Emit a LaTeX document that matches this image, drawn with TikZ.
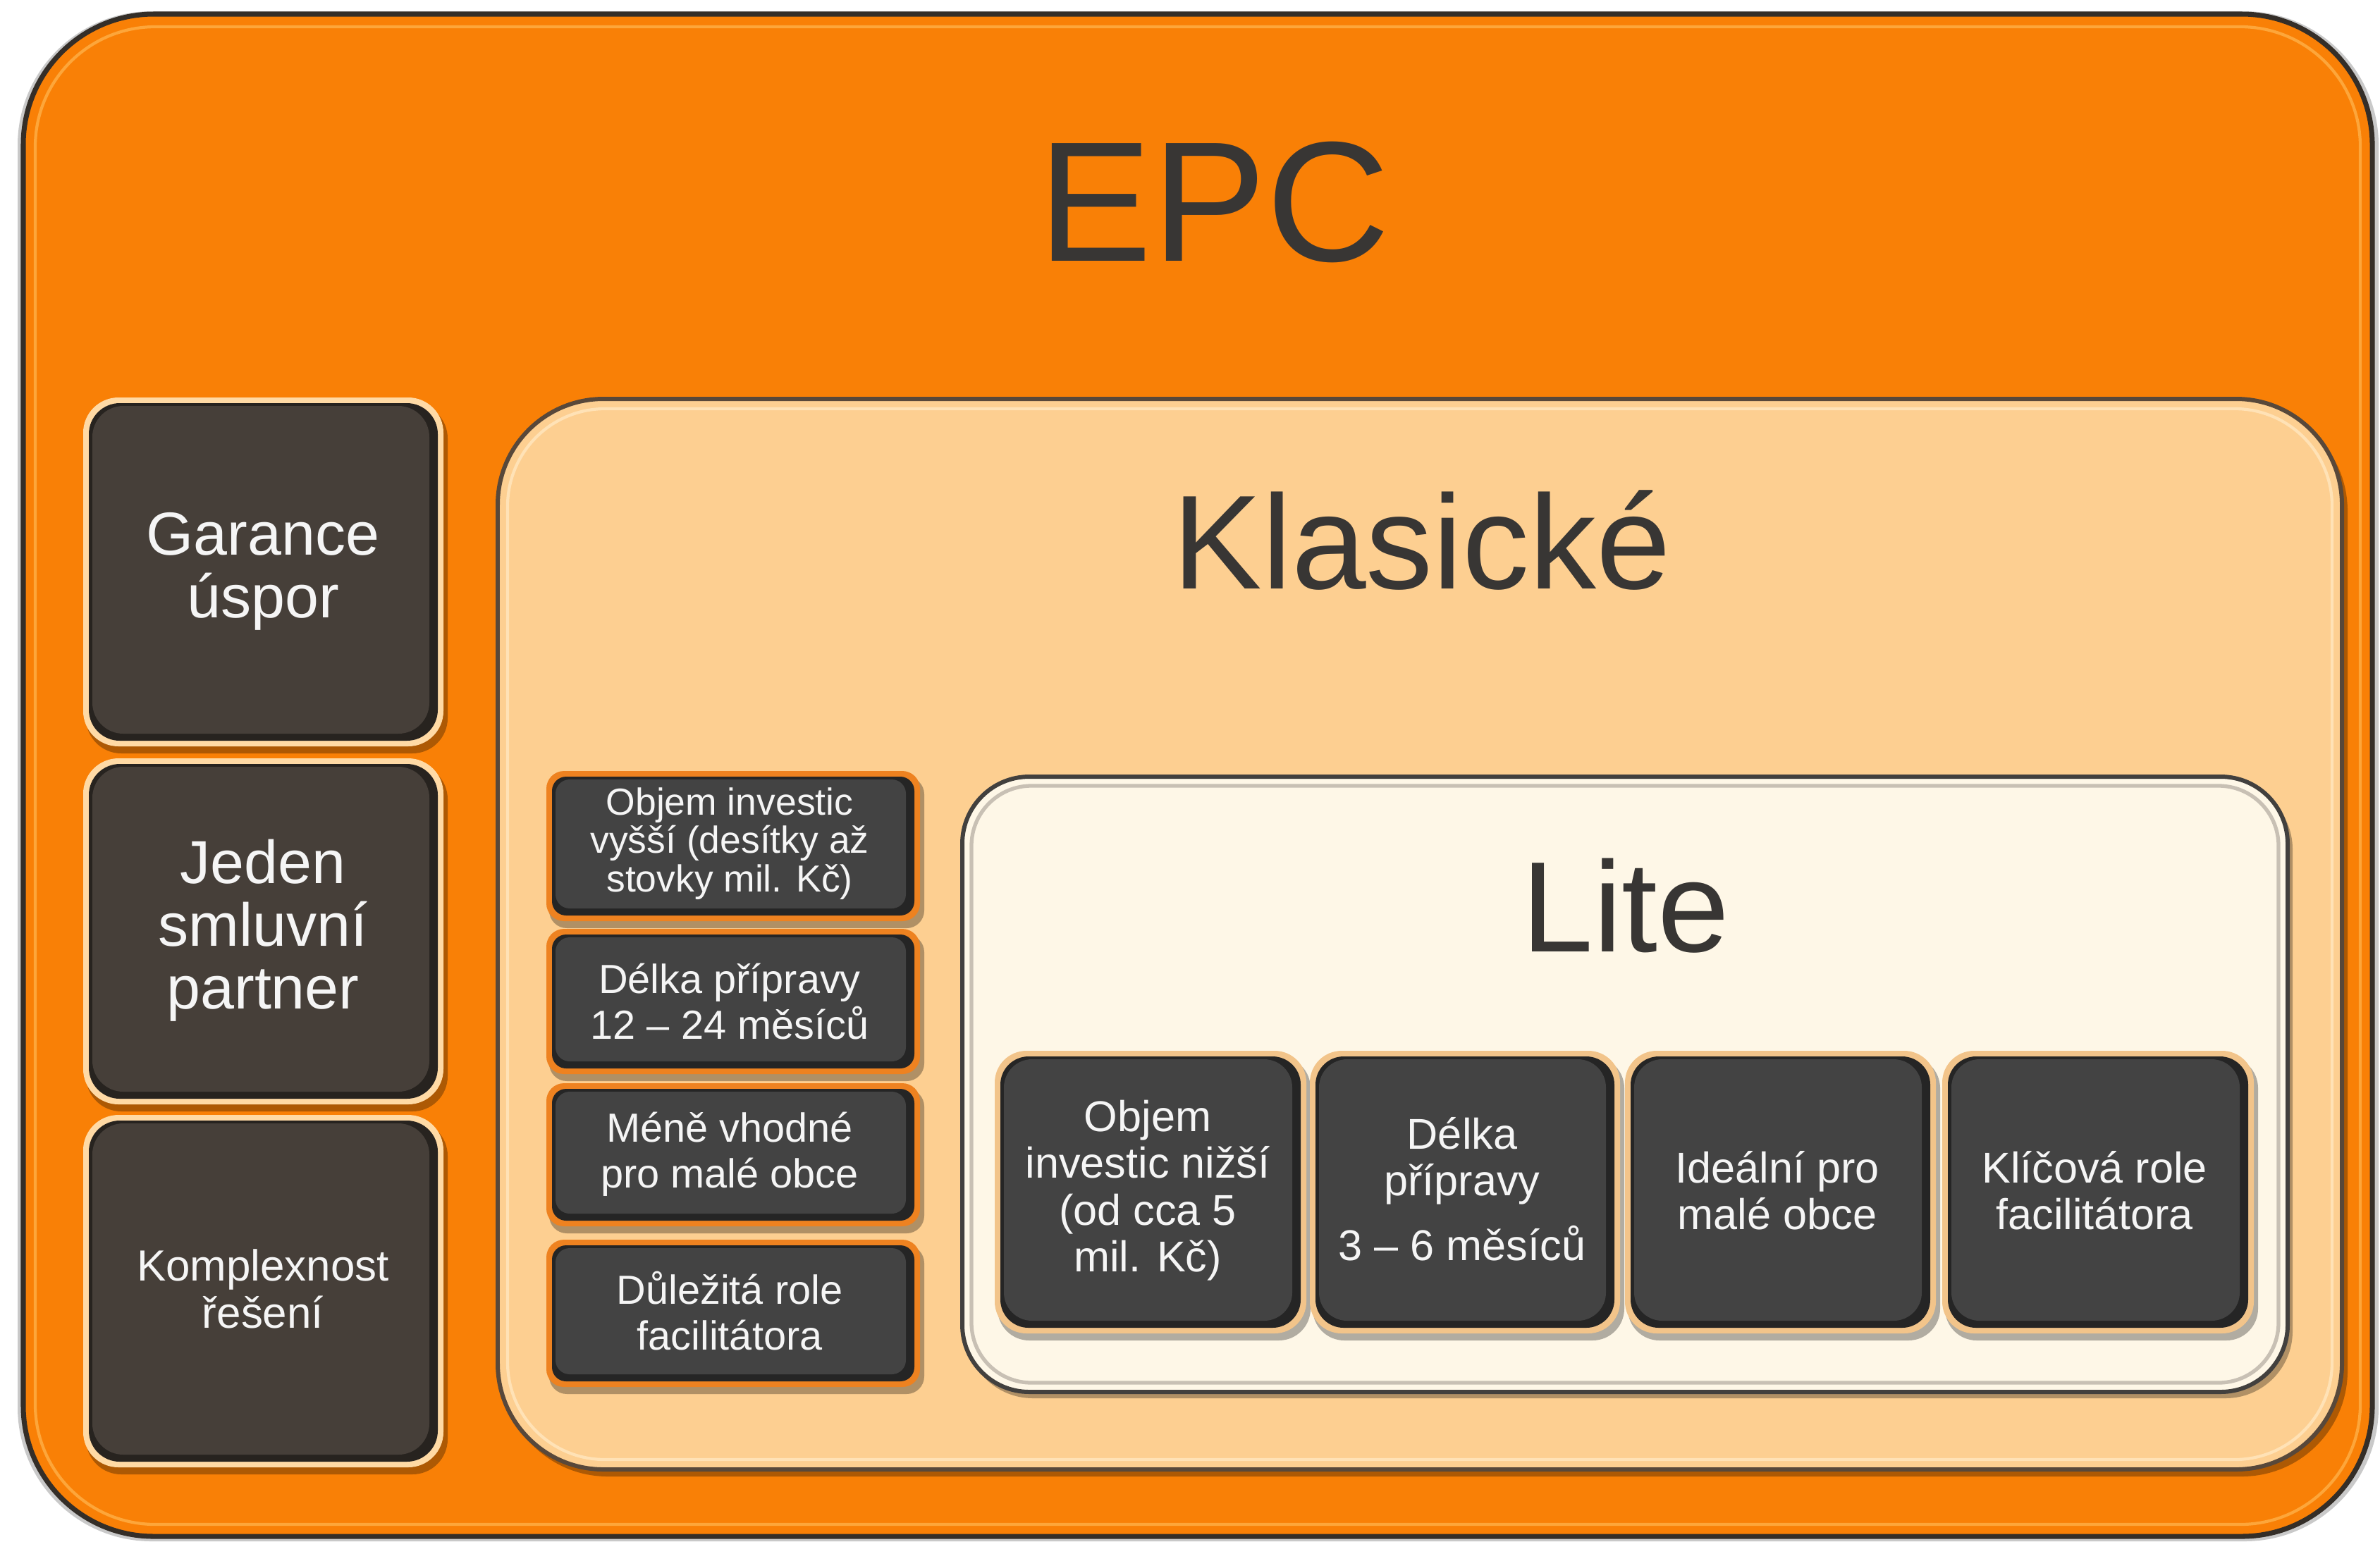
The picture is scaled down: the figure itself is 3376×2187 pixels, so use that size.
\documentclass[tikz,border=0pt]{standalone}
\usepackage{fontspec}
\setmainfont{Liberation Sans}
\definecolor{epcorange}{RGB}{249,128,6}
\definecolor{epclight}{RGB}{253,166,58}
\definecolor{edgedark}{RGB}{52,46,40}
\definecolor{peach}{RGB}{253,207,145}
\definecolor{peachlight}{RGB}{255,226,182}
\definecolor{klasedge}{RGB}{88,72,58}
\definecolor{cream}{RGB}{254,247,231}
\definecolor{litedge}{RGB}{66,64,62}
\definecolor{litegray}{RGB}{200,192,180}
\definecolor{boxbrown}{RGB}{70,63,57}
\definecolor{boxgray}{RGB}{67,67,67}
\definecolor{rimpeach}{RGB}{255,218,165}
\definecolor{rimorange}{RGB}{238,130,32}
\definecolor{rimtan}{RGB}{242,196,138}
\definecolor{titlegray}{RGB}{56,54,52}
\definecolor{textwhite}{RGB}{245,245,245}
\newcommand\bevbox[8]{%
  \fill[black,opacity=.3,rounded corners=#5] (#1+4,#2+8) rectangle (#3+6,#4+10);
  \fill[#7,rounded corners=#5] (#1,#2) rectangle (#3,#4);
  \fill[#8!55!black,rounded corners=#6] (#1+8,#2+8) rectangle (#3-8,#4-8);
  \fill[#8,rounded corners=#6] (#1+13,#2+12) rectangle (#3-20,#4-18);
}
\tikzset{
  lbl/.style={text=textwhite, align=center, inner sep=0pt},
  ttl/.style={text=titlegray, inner sep=0pt, anchor=base},
}
\begin{document}
\begin{tikzpicture}[x=0.01cm,y=-0.01cm]
\useasboundingbox (0,0) rectangle (3376,2187);
\fill[white] (0,0) rectangle (3376,2187);
% EPC outer
\fill[black!60,opacity=.35,rounded corners=1.9cm] (25,16) rectangle (3374,2187);
\filldraw[fill=epcorange,draw=edgedark,line width=2pt,rounded corners=1.85cm] (33,20) rectangle (3365,2180);
\draw[epclight,line width=1.2pt,rounded corners=1.7cm] (50,38) rectangle (3348,2163);
\node[ttl,font=\fontsize{69}{70}\selectfont] (epc) at (1722,370) {EPC};
% left boxes
\bevbox{118}{564}{629}{1059}{0.5cm}{0.44cm}{rimpeach}{boxbrown}
\bevbox{118}{1076}{629}{1567}{0.5cm}{0.44cm}{rimpeach}{boxbrown}
\bevbox{118}{1582}{629}{2082}{0.5cm}{0.44cm}{rimpeach}{boxbrown}
\node[lbl,font=\fontsize{24.5}{25.3}\selectfont] (gar) at (373,811) {Garance\\úspor};
\node[lbl,font=\fontsize{24.5}{25.3}\selectfont] (jed) at (373,1320) {Jeden\\smluvní\\partner};
\node[lbl,font=\fontsize{17.6}{19}\selectfont] (kom) at (373,1829) {Komplexnost\\řešení};
% Klasicke
\fill[black,opacity=.3,rounded corners=1.5cm] (712,575) rectangle (3330,2095);
\filldraw[fill=peach,draw=klasedge,line width=1.7pt,rounded corners=1.5cm] (706,566) rectangle (3322,2085);
\draw[peachlight,line width=1.2pt,rounded corners=1.38cm] (720,580) rectangle (3308,2071);
\node[ttl,font=\fontsize{54}{56}\selectfont] (klas) at (2017,835) {Klasické};
% Klasicke small boxes
\bevbox{775}{1094}{1305}{1307}{0.25cm}{0.2cm}{rimorange}{boxgray}
\bevbox{775}{1318}{1305}{1524}{0.25cm}{0.2cm}{rimorange}{boxgray}
\bevbox{775}{1537}{1305}{1740}{0.25cm}{0.2cm}{rimorange}{boxgray}
\bevbox{775}{1759}{1305}{1968}{0.25cm}{0.2cm}{rimorange}{boxgray}
\node[lbl,font=\fontsize{15.2}{15.4}\selectfont] (ka) at (1035,1197) {Objem investic\\vyšší (desítky až\\stovky mil. Kč)};
\node[lbl,font=\fontsize{16.4}{18.5}\selectfont] (kb) at (1035,1421) {Délka přípravy\\12 – 24 měsíců};
\node[lbl,font=\fontsize{16.4}{18.5}\selectfont] (kc) at (1035,1638) {Méně vhodné\\pro malé obce};
\node[lbl,font=\fontsize{16.4}{18.5}\selectfont] (kd) at (1035,1860) {Důležitá role\\facilitátora};
% Lite
\fill[black,opacity=.3,rounded corners=.95cm] (1370,1110) rectangle (3252,1984);
\filldraw[fill=cream,draw=litedge,line width=1.7pt,rounded corners=.95cm] (1365,1102) rectangle (3245,1975);
\draw[litegray,line width=1.5pt,rounded corners=.85cm] (1378,1115) rectangle (3232,1962);
\node[ttl,font=\fontsize{52}{54}\selectfont] (lite) at (2306,1350) {Lite};
% Lite boxes
\bevbox{1411}{1491}{1853}{1892}{0.45cm}{0.4cm}{rimtan}{boxgray}
\bevbox{1858}{1491}{2298}{1892}{0.45cm}{0.4cm}{rimtan}{boxgray}
\bevbox{2305}{1491}{2746}{1892}{0.45cm}{0.4cm}{rimtan}{boxgray}
\bevbox{2755}{1491}{3197}{1892}{0.45cm}{0.4cm}{rimtan}{boxgray}
\node[lbl,font=\fontsize{17.4}{18.9}\selectfont] (la) at (1628,1689) {Objem\\investic nižší\\(od cca 5\\mil. Kč)};
\node[lbl,font=\fontsize{17.4}{18.9}\selectfont] (lb) at (2074,1687) {Délka\\přípravy\\[7pt]3 – 6 měsíců};
\node[lbl,font=\fontsize{17.4}{18.9}\selectfont] (lc) at (2521,1689) {Ideální pro\\malé obce};
\node[lbl,font=\fontsize{17.4}{18.9}\selectfont] (ld) at (2971,1689) {Klíčová role\\facilitátora};
\end{tikzpicture}
\end{document}
